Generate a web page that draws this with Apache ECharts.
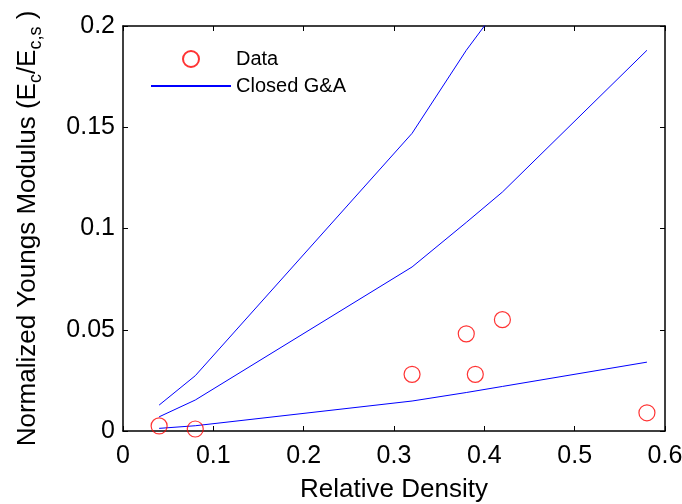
<!DOCTYPE html>
<html>
<head>
<meta charset="utf-8">
<script src="https://cdn.jsdelivr.net/npm/echarts@6/dist/echarts.min.js"></script>
<style>
  html, body { margin: 0; padding: 0; background: #fff; }
  #chart { width: 682px; height: 504px; }
</style>
</head>
<body>
<div id="chart"></div>
<script>
// measured points (red circles)
const density = [0.04, 0.08, 0.32, 0.38, 0.39, 0.42, 0.58];
const measured = [0.0025, 0.001, 0.028, 0.048, 0.028, 0.055, 0.009];

// Closed G&A model curves (top one runs off the axis above 0.2)
const modelDensity = [0.04, 0.08, 0.32, 0.38, 0.42, 0.58];
const upperModel = [0.0128, 0.0273, 0.147, 0.188, 0.212];
const middleModel = [0.007, 0.0153, 0.081, 0.103, 0.118, 0.188];
const lowerModel = [0.0013, 0.0026, 0.0148, 0.019, 0.022, 0.034];

const xTicks = [0, 0.1, 0.2, 0.3, 0.4, 0.5, 0.6];
const yTicks = [0, 0.05, 0.1, 0.15, 0.2];

const FONT = 'Liberation Sans';
const pairs = (xs, ys) => ys.map((y, i) => [xs[i], y]);

const chart = echarts.init(document.getElementById('chart'));

// mirrored axes on top/right only carry the inside ticks
const axisCommon = {
  type: 'value',
  splitLine: { show: false },
  axisLine: { show: true, onZero: false, lineStyle: { color: '#000', width: 1.5 } },
  axisTick: { show: true, inside: true, length: 5, lineStyle: { color: '#000', width: 1 } }
};

const lineSeries = (data) => ({
  name: 'Closed G&A',
  type: 'line',
  data: data,
  symbol: 'none',
  clip: true,
  lineStyle: { color: '#0000ff', width: 1 },
  itemStyle: { color: '#0000ff' },
  z: 2
});

chart.setOption({
  animation: false,
  backgroundColor: '#fff',
  grid: { left: 123, right: 17, top: 26, bottom: 73, outerBoundsMode: 'none' },
  legend: {
    // line entry: hide the dot the legend puts on line icons
    data: ['Data', { name: 'Closed G&A', itemStyle: { opacity: 0 } }],
    orient: 'vertical',
    left: 150,
    top: 49,
    padding: 0,
    itemWidth: 80,
    itemHeight: 16,
    itemGap: 7,
    textStyle: { fontFamily: FONT, fontSize: 20, color: '#000' }
  },
  xAxis: [
    Object.assign({}, axisCommon, {
      position: 'bottom',
      min: xTicks[0],
      max: xTicks[xTicks.length - 1],
      interval: 0.1,
      name: 'Relative Density',
      nameLocation: 'middle',
      nameGap: 46,
      nameTextStyle: { fontFamily: FONT, fontSize: 26, color: '#000' },
      axisLabel: {
        margin: 13,
        fontFamily: FONT,
        fontSize: 25,
        color: '#000',
        formatter: (v) => String(+v.toFixed(2))
      }
    }),
    Object.assign({}, axisCommon, {
      position: 'top',
      min: xTicks[0],
      max: xTicks[xTicks.length - 1],
      interval: 0.1,
      axisLabel: { show: false }
    })
  ],
  yAxis: [
    Object.assign({}, axisCommon, {
      position: 'left',
      min: yTicks[0],
      max: yTicks[yTicks.length - 1],
      interval: 0.05,
      name: '{n|Normalized Youngs Modulus (E}{s|c}{n|/E}{s|c,s}{n| )}',
      nameLocation: 'middle',
      nameGap: 80,
      nameTextStyle: {
        fontFamily: FONT,
        fontSize: 26,
        color: '#000',
        rich: {
          n: { fontFamily: FONT, fontSize: 26, lineHeight: 28, verticalAlign: 'top', color: '#000' },
          s: { fontFamily: FONT, fontSize: 18, lineHeight: 18, verticalAlign: 'top', padding: [12, 0, 0, 0], color: '#000' }
        }
      },
      axisLabel: {
        margin: 8,
        fontFamily: FONT,
        fontSize: 25,
        color: '#000',
        formatter: (v) => String(+v.toFixed(2))
      }
    }),
    Object.assign({}, axisCommon, {
      position: 'right',
      min: yTicks[0],
      max: yTicks[yTicks.length - 1],
      interval: 0.05,
      axisLabel: { show: false }
    })
  ],
  series: [
    {
      name: 'Data',
      type: 'scatter',
      data: pairs(density, measured),
      symbol: 'circle',
      symbolSize: 16,
      itemStyle: { color: 'rgba(0,0,0,0)', borderColor: '#ff0000', borderWidth: 1.2 },
      z: 3
    },
    lineSeries(pairs(modelDensity, upperModel)),
    lineSeries(pairs(modelDensity, middleModel)),
    lineSeries(pairs(modelDensity, lowerModel))
  ]
});
</script>
</body>
</html>
